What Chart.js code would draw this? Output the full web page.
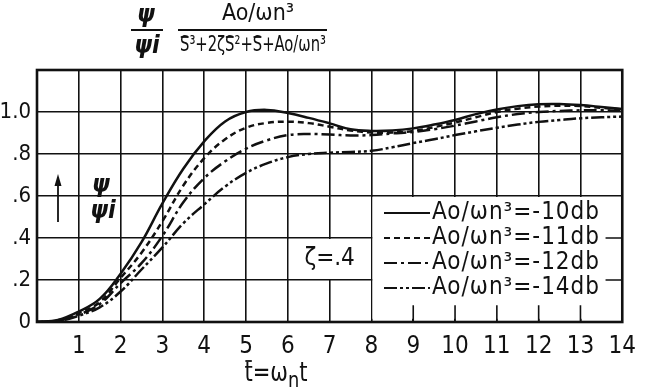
<!DOCTYPE html>
<html>
<head>
<meta charset="utf-8">
<script src="https://cdn.jsdelivr.net/npm/chart.js@4.4.1/dist/chart.umd.min.js"></script>
<style>
  html, body { margin: 0; padding: 0; background: #fff; }
  #wrap { width: 646px; height: 392px; }
</style>
</head>
<body>
<div id="wrap"><canvas id="resp" width="646" height="392"></canvas></div>
<script>
// normalized time t = wn*t
var tValues = [0, 0.5, 1, 1.5, 2, 2.5, 3, 3.5, 4, 4.5, 5, 5.5, 6, 6.5, 7,
               7.5, 8, 8.5, 9, 9.5, 10, 10.5, 11, 11.5, 12, 12.5, 13, 13.5, 14];

// step response for each loop gain
var gain10 = [0, 0.01, 0.05, 0.11, 0.23, 0.38, 0.565, 0.73, 0.86, 0.955, 1.0, 1.01, 0.995, 0.972, 0.946,
              0.918, 0.91, 0.912, 0.922, 0.94, 0.962, 0.99, 1.012, 1.028, 1.037, 1.038, 1.033, 1.024, 1.014];
var gain11 = [0, 0.008, 0.042, 0.095, 0.21, 0.33, 0.48, 0.65, 0.78, 0.87, 0.925, 0.948, 0.954, 0.947, 0.93,
              0.912, 0.902, 0.902, 0.91, 0.928, 0.95, 0.975, 1.0, 1.016, 1.026, 1.03, 1.028, 1.02, 1.012];
var gain12 = [0, 0.006, 0.035, 0.085, 0.185, 0.28, 0.41, 0.57, 0.685, 0.765, 0.825, 0.865, 0.89, 0.895, 0.893,
              0.888, 0.89, 0.898, 0.905, 0.918, 0.935, 0.955, 0.975, 0.99, 1.0, 1.005, 1.008, 1.008, 1.006];
var gain14 = [0, 0.004, 0.03, 0.07, 0.145, 0.25, 0.355, 0.47, 0.56, 0.645, 0.71, 0.755, 0.785, 0.8, 0.806,
              0.81, 0.815, 0.832, 0.852, 0.87, 0.89, 0.908, 0.925, 0.94, 0.953, 0.962, 0.97, 0.975, 0.978];

var gainLabels = ['Ao/\u03c9n\u00b3=-10db', 'Ao/\u03c9n\u00b3=-11db', 'Ao/\u03c9n\u00b3=-12db', 'Ao/\u03c9n\u00b3=-14db'];
var yTickText = { 0: '0', 2: '.2', 4: '.4', 6: '.6', 8: '.8', 10: '1.0', 12: '' };

var ink = '#111';
var letters = "'DejaVu Sans Condensed', 'DejaVu Sans', sans-serif";
var dashes = [[], [6, 4], [13, 4, 3, 4], [13, 3, 3, 3, 3, 3]];

function pairs(ys) {
    var pts = [];
    for (var i = 0; i < tValues.length; i++) {
        pts.push({ x: tValues[i], y: ys[i] });
    }
    return pts;
}

var allGains = [gain10, gain11, gain12, gain14];
var datasets = [];
for (var i = 0; i < allGains.length; i++) {
    datasets.push({
        label: gainLabels[i],
        data: pairs(allGains[i]),
        borderColor: ink,
        borderWidth: 2.5,
        borderDash: dashes[i],
        pointRadius: 0,
        tension: 0.4,
        fill: false
    });
}

// draws pieces of text left to right, squeezed by sx; pieces flagged bar get an overline
function drawPieces(ctx, pieces, x, y, sx) {
    ctx.save();
    ctx.translate(x, y);
    ctx.scale(sx, 1);
    var cx = 0;
    for (var i = 0; i < pieces.length; i++) {
        var p = pieces[i];
        ctx.font = p.font;
        var w = ctx.measureText(p.text).width;
        ctx.fillText(p.text, cx, p.dy || 0);
        if (p.bar) {
            ctx.beginPath();
            ctx.lineWidth = 1.8;
            ctx.moveTo(cx + 1, p.bar);
            ctx.lineTo(cx + w - 1, p.bar);
            ctx.stroke();
        }
        cx += w;
    }
    ctx.restore();
}

function piecesWidth(ctx, pieces) {
    var w = 0;
    for (var i = 0; i < pieces.length; i++) {
        ctx.font = pieces[i].font;
        w += ctx.measureText(pieces[i].text).width;
    }
    return w;
}

var paper = {
    id: 'paper',
    beforeDatasetsDraw: function(chart) {
        var ctx = chart.ctx;
        var xs = chart.scales.x, ys = chart.scales.y;
        ctx.save();
        ctx.fillStyle = '#fff';
        // open space for the legend and the damping note
        ctx.fillRect(xs.getPixelForValue(8) + 1, ys.getPixelForValue(0.6) + 1,
                     xs.getPixelForValue(14) - xs.getPixelForValue(8) - 2,
                     ys.getPixelForValue(0.02) - ys.getPixelForValue(0.6));
        ctx.fillRect(xs.getPixelForValue(6) + 1, ys.getPixelForValue(0.4) + 1,
                     xs.getPixelForValue(8) - xs.getPixelForValue(6) - 2,
                     ys.getPixelForValue(0.2) - ys.getPixelForValue(0.4) - 2);
        ctx.strokeStyle = ink;
        ctx.lineWidth = 1.6;
        ctx.beginPath();
        for (var t = 9; t <= 13; t++) {
            var px = xs.getPixelForValue(t);
            ctx.moveTo(px, ys.getPixelForValue(0));
            ctx.lineTo(px, ys.getPixelForValue(0.08));
        }
        var yTicksRight = [0.2, 0.4];
        for (var k = 0; k < yTicksRight.length; k++) {
            var py = ys.getPixelForValue(yTicksRight[k]);
            ctx.moveTo(xs.getPixelForValue(13.6), py);
            ctx.lineTo(xs.getPixelForValue(14), py);
        }
        ctx.stroke();
        // frame
        var a = chart.chartArea;
        ctx.lineWidth = 2.6;
        ctx.strokeRect(a.left, a.top, a.right - a.left, a.bottom - a.top);
        ctx.restore();
    },
    afterDraw: function(chart) {
        var ctx = chart.ctx;
        var xs = chart.scales.x, ys = chart.scales.y;
        ctx.save();
        ctx.fillStyle = ink;
        ctx.strokeStyle = ink;
        ctx.textBaseline = 'middle';

        // transfer function heading
        var psiFont = 'italic bold 25px ' + letters;
        ctx.font = psiFont;
        ctx.textAlign = 'center';
        ctx.fillText('\u03c8', 146, 15);
        ctx.fillText('\u03c8i', 147, 46);
        ctx.lineWidth = 2.2;
        ctx.beginPath();
        ctx.moveTo(131, 30); ctx.lineTo(163, 30);
        ctx.moveTo(178, 30); ctx.lineTo(327, 30);
        ctx.stroke();
        ctx.font = '23px ' + letters;
        ctx.fillText('Ao/\u03c9n\u00b3', 258, 14);
        ctx.textAlign = 'left';
        var denFont = '21px ' + letters;
        var den = [
            { text: 'S', font: denFont, bar: -9 },
            { text: '\u00b3+2\u03b6', font: denFont },
            { text: 'S', font: denFont, bar: -9 },
            { text: '\u00b2+', font: denFont },
            { text: 'S', font: denFont, bar: -9 },
            { text: '+Ao/\u03c9n\u00b3', font: denFont }
        ];
        var dw = piecesWidth(ctx, den);
        var squeeze = 146 / dw;
        drawPieces(ctx, den, 180, 46, squeeze);

        // quantity on the vertical axis
        ctx.lineWidth = 1.8;
        ctx.beginPath();
        ctx.moveTo(58, 222); ctx.lineTo(58, 182);
        ctx.stroke();
        ctx.beginPath();
        ctx.moveTo(58, 174); ctx.lineTo(54.5, 186); ctx.lineTo(61.5, 186); ctx.closePath();
        ctx.fill();
        ctx.font = psiFont;
        ctx.textAlign = 'center';
        ctx.fillText('\u03c8', 101, 185);
        ctx.fillText('\u03c8i', 103, 211);

        // damping ratio note
        ctx.font = '24px ' + letters;
        ctx.fillText('\u03b6=.4', xs.getPixelForValue(7), ys.getPixelForValue(0.3));

        // key
        ctx.textAlign = 'left';
        ctx.font = '24px ' + letters;
        ctx.letterSpacing = '1px';
        var rows = [213, 238, 263, 288];
        for (var i = 0; i < rows.length; i++) {
            ctx.setLineDash(dashes[i]);
            ctx.lineWidth = 2;
            ctx.beginPath();
            ctx.moveTo(384, rows[i]);
            ctx.lineTo(430, rows[i]);
            ctx.stroke();
            ctx.setLineDash([]);
            ctx.fillText(gainLabels[i], 432, rows[i]);
        }
        ctx.letterSpacing = '0px';

        // horizontal axis name
        var tf = '26px ' + letters;
        var name = [
            { text: 't', font: tf, bar: -13 },
            { text: '=\u03c9', font: tf },
            { text: 'n', font: '22px ' + letters, dy: 7 },
            { text: 't', font: tf }
        ];
        var nw = piecesWidth(ctx, name);
        drawPieces(ctx, name, 276 - nw * 0.9 / 2, 374, 0.9);
        ctx.restore();
    }
};

var chart = new Chart(document.getElementById('resp'), {
    type: 'line',
    data: { datasets: datasets },
    plugins: [paper],
    options: {
        animation: false,
        responsive: false,
        maintainAspectRatio: false,
        layout: { padding: { left: 0, top: 70, right: 14, bottom: 0 } },
        plugins: {
            legend: { display: false },
            tooltip: { enabled: false }
        },
        scales: {
            x: {
                type: 'linear',
                min: 0,
                max: 14,
                afterFit: function(scale) { scale.height = 70; },
                ticks: {
                    stepSize: 1,
                    color: ink,
                    padding: 10,
                    maxRotation: 0,
                    font: { family: letters, size: 24 },
                    callback: function(v) { return v === 0 ? '' : String(v); }
                },
                grid: { color: ink, lineWidth: 1.6, drawTicks: false },
                border: { display: false }
            },
            y: {
                min: 0,
                max: 1.2,
                afterFit: function(scale) { scale.width = 37; },
                ticks: {
                    stepSize: 0.2,
                    color: ink,
                    padding: 6,
                    font: { family: letters, size: 22 },
                    callback: function(v) { return yTickText[Math.round(v * 10)]; }
                },
                grid: { color: ink, lineWidth: 1.6, drawTicks: false },
                border: { display: false }
            }
        }
    }
});
</script>
</body>
</html>
